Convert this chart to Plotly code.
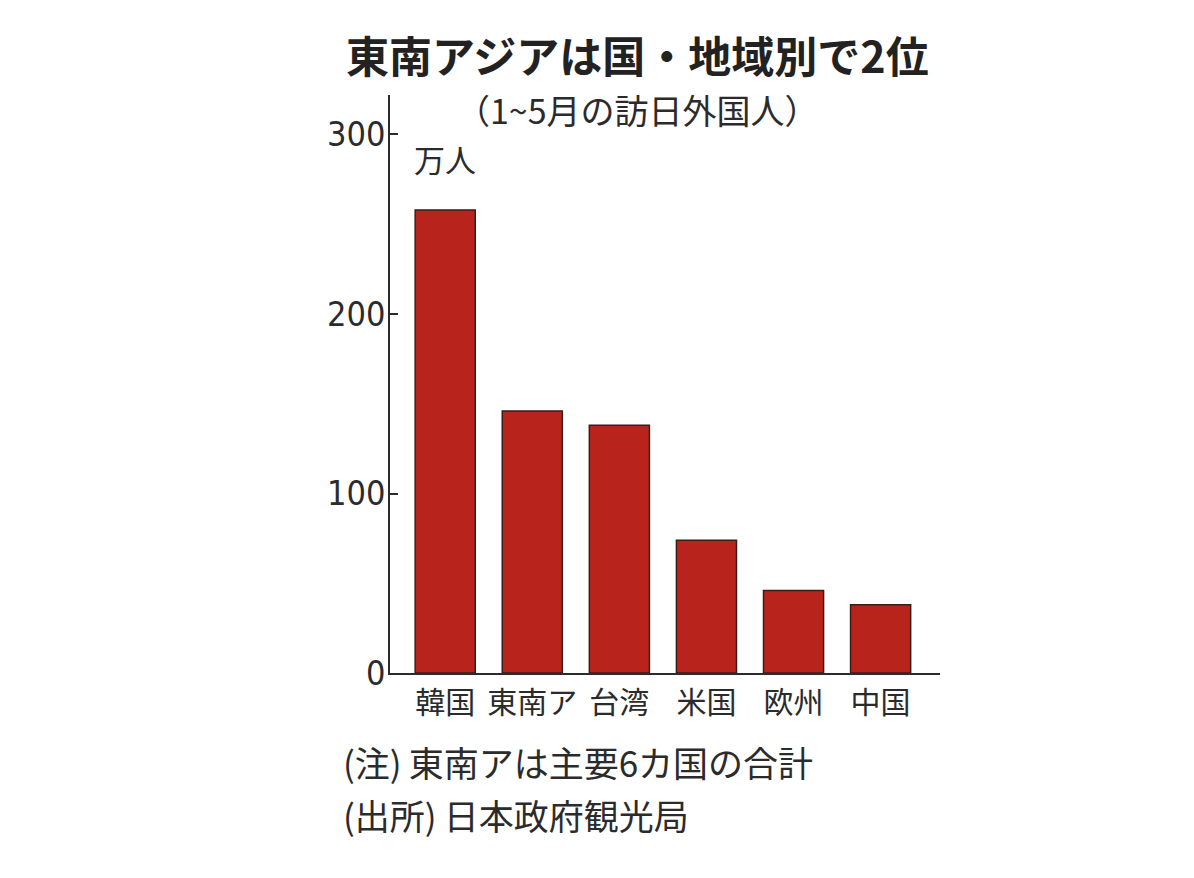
import plotly.graph_objects as go

# 1~5月の訪日外国人（万人）
categories = ["韓国", "東南ア", "台湾", "米国", "欧州", "中国"]
visitors = [258, 146, 138, 74, 46, 38]
y_ticks = [0, 100, 200, 300]

title_text = "東南アジアは国・地域別で2位"
subtitle_text = "（1~5月の訪日外国人）"
unit_text = "万人"
note_text = "(注)\u2009東南アは主要6カ国の合計"
source_text = "(出所)\u2009日本政府観光局"

W, H = 1194, 878
OFF = 8  # page body margin
L, R, T, B = 390 - OFF, 254 + OFF, 95 - OFF, 205 + OFF
jp_font = "Noto Sans CJK JP"
num_font = "Liberation Sans Narrow, DejaVu Sans Condensed, Roboto, sans-serif"
ink = "#2b2b2b"


def px_x(px):
    return (px - OFF - L) / (W - L - R)


def px_y(py):
    return (H - B - (py - OFF)) / (H - T - B)


fig = go.Figure(go.Bar(
    x=categories,
    y=visitors,
    width=0.69,
    marker=dict(color="#b8241b", line=dict(color="#3a1d1a", width=1.5)),
    hoverinfo="x+y",
))

fig.update_layout(
    width=W,
    height=H,
    margin=dict(l=L, r=R, t=T, b=B),
    paper_bgcolor="white",
    plot_bgcolor="white",
    showlegend=False,
)

fig.update_xaxes(
    range=[-0.634, 5.682],
    showline=True,
    linecolor=ink,
    linewidth=1.5,
    ticks="",
    showgrid=False,
    tickfont=dict(family=jp_font, size=30, color=ink),
    ticklabelstandoff=2,
)
fig.update_yaxes(
    range=[0, 322],
    tickvals=y_ticks,
    showline=True,
    linecolor=ink,
    linewidth=1.5,
    ticks="inside",
    ticklen=8,
    tickwidth=1.5,
    tickcolor=ink,
    showgrid=False,
    zeroline=False,
    tickfont=dict(family=num_font, size=34, color=ink),
    ticklabelstandoff=-4,
)

annos = [
    dict(text="<b>" + title_text + "</b>", x=px_x(637), y=px_y(54),
         font=dict(family=jp_font, size=43, color="#222"), xanchor="center"),
    dict(text=subtitle_text, x=px_x(637), y=px_y(110),
         font=dict(family=jp_font, size=34, color=ink), xanchor="center"),
    dict(text=unit_text, x=px_x(412), y=px_y(158),
         font=dict(family=jp_font, size=31, color=ink), xanchor="left"),
    dict(text=note_text, x=px_x(341), y=px_y(761),
         font=dict(family=jp_font, size=35, color=ink), xanchor="left"),
    dict(text=source_text, x=px_x(341), y=px_y(814),
         font=dict(family=jp_font, size=35, color=ink), xanchor="left"),
]
for a in annos:
    fig.add_annotation(xref="paper", yref="paper", showarrow=False,
                       yanchor="middle", **a)

fig.write_html("out.html")
